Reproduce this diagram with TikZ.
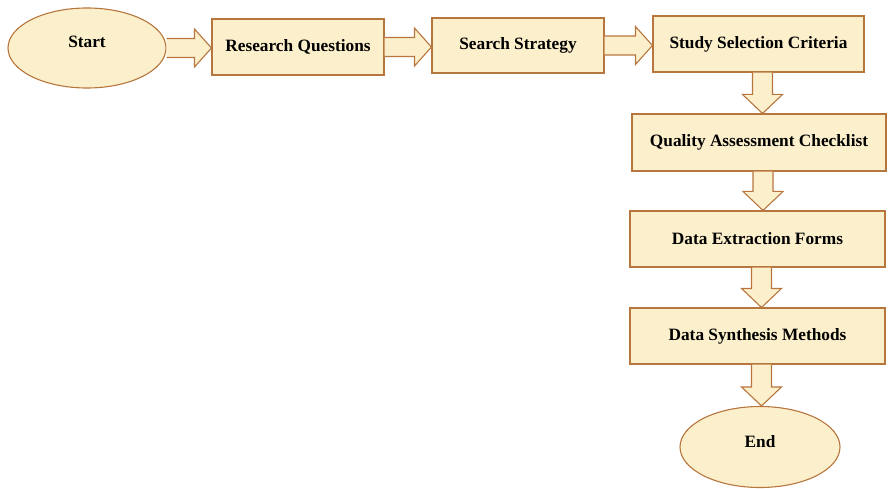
\documentclass[tikz,border=0pt]{standalone}
\usepackage{fontspec}
\setmainfont{Liberation Serif}
\usepackage{tikz}
\usetikzlibrary{calc,shapes.geometric}
\usepackage{xcolor}
\definecolor{boxfill}{HTML}{FCEFCB}
\definecolor{boxline}{HTML}{B8763F}

\newcommand{\rarrow}[2]{%
\draw[fatarrow] ($(#1.east)+(0,-9.5)$) -- ($(#2.west |- #1.east)+(-17,-9.5)$) -- ($(#2.west |- #1.east)+(-17,-19)$) -- (#2.west |- #1.east) -- ($(#2.west |- #1.east)+(-17,19)$) -- ($(#2.west |- #1.east)+(-17,9.5)$) -- ($(#1.east)+(0,9.5)$);}
\newcommand{\darrow}[2]{%
\draw[fatarrow] ($(#1.south)+(-6,0)$) -- ($(#1.south |- #2.north)+(-6,-19)$) -- ($(#1.south |- #2.north)+(-16,-19)$) -- ($(#1.south |- #2.north)+(4,0)$) -- ($(#1.south |- #2.north)+(24,-19)$) -- ($(#1.south |- #2.north)+(14,-19)$) -- ($(#1.south)+(14,0)$);}

\begin{document}
\begin{tikzpicture}[x=1pt,y=-1pt,line join=miter,
  font=\fontsize{17.3}{20}\selectfont\bfseries,
  stepbox/.style={draw=boxline,fill=boxfill,line width=1.1pt,rectangle,inner sep=0pt},
  termbox/.style={draw=boxline,fill=boxfill,line width=1.1pt,ellipse,inner sep=0pt,text depth=12pt},
  fatarrow/.style={draw=boxline,fill=boxfill,line width=1.1pt}]
\useasboundingbox (0,0) rectangle (888,489);
\node[termbox,minimum width=158pt,minimum height=80pt] (start) at (87,48) {Start};
\node[stepbox,minimum width=172pt,minimum height=56pt] (rq) at (298,47) {Research Questions};
\node[stepbox,minimum width=172pt,minimum height=55pt] (ss) at (518,45.5) {Search Strategy};
\node[stepbox,minimum width=211pt,minimum height=56pt] (ssc) at (758.5,44) {Study Selection Criteria};
\node[stepbox,minimum width=254pt,minimum height=57pt] (qac) at (759,142.5) {Quality Assessment Checklist};
\node[stepbox,minimum width=255pt,minimum height=56pt] (def) at (757.5,239) {Data Extraction Forms};
\node[stepbox,minimum width=255pt,minimum height=56pt] (dsm) at (757.5,336) {Data Synthesis Methods};
\node[termbox,minimum width=160pt,minimum height=81pt] (end) at (760,447) {End};
\rarrow{start}{rq}
\rarrow{rq}{ss}
\rarrow{ss}{ssc}
\darrow{ssc}{qac}
\darrow{qac}{def}
\darrow{def}{dsm}
\darrow{dsm}{end}
\end{tikzpicture}
\end{document}
